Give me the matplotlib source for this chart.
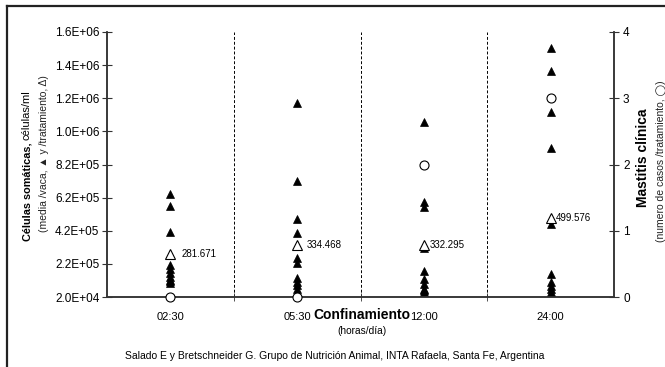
import matplotlib

matplotlib.use("Agg")

import matplotlib.pyplot as plt
import numpy as np
from matplotlib.lines import Line2D
from matplotlib.ticker import FormatStrFormatter

plt.rcParams["font.family"] = ["Liberation Sans", "DejaVu Sans"]

# Confinamiento (horas/dia)
categories = ["02:30", "05:30", "12:00", "24:00"]

# celulas somaticas, media por vaca (triangulos llenos)
scc_cow_0230 = [642000, 569000, 411000, 213000, 187000, 163000, 143000, 123000, 115000, 103000]
scc_cow_0530 = [1193000, 722000, 489000, 408000, 254000, 223000, 133000, 112000, 92000, 66000]
scc_cow_1200 = [1078000, 595000, 565000, 318000, 179000, 129000, 98000, 68000, 60000, 52000]
scc_cow_2400 = [1522000, 1386000, 1139000, 918000, 461000, 159000, 109000, 88000, 68000, 48000]
scc_cow = [scc_cow_0230, scc_cow_0530, scc_cow_1200, scc_cow_2400]

# media por tratamiento (triangulo abierto)
scc_mean = [281671, 334468, 332295, 499576]
scc_mean_labels = ["281.671", "334.468", "332.295", "499.576"]

# mastitis clinica, casos por tratamiento (circulo)
mastitis = [0, 0, 2, 3]

yticks = np.arange(20000, 1620001, 200000)

W, H = 665, 367
fig = plt.figure(figsize=(W / 100, H / 100), dpi=100)
ax = fig.add_axes([107 / W, 70 / H, 507 / W, 265 / H])
ax2 = ax.twinx()

x = np.arange(len(categories))
spine_c = "#333333"

for i, vals in enumerate(scc_cow):
    ax.plot([x[i]] * len(vals), vals, ls="none", marker="^", ms=5.8,
            mfc="black", mec="black", mew=0.5, clip_on=False, zorder=3)

ax.plot(x, scc_mean, ls="none", marker="^", ms=7, mfc="white", mec="black",
        mew=0.8, clip_on=False, zorder=4)
label_offsets = [11, 10, 6, 5]
for i, (m, lab) in enumerate(zip(scc_mean, scc_mean_labels)):
    ax.annotate(lab, xy=(x[i], m), xytext=(label_offsets[i], 0),
                textcoords="offset pixels", ha="left", va="center", fontsize=7)

ax2.plot(x, mastitis, ls="none", marker="o", ms=6.5, mfc="white", mec="black",
         mew=0.8, clip_on=False, zorder=5)

# separadores entre tratamientos
for b in x[:-1] + 0.5:
    ax.axvline(b, color="black", lw=0.7, ls=(0, (3, 2)), zorder=1)

ax.set_xlim(-0.5, len(categories) - 0.5)
ax.set_ylim(yticks[0], yticks[-1])
ax.set_yticks(yticks)
ax.yaxis.set_major_formatter(FormatStrFormatter("%.1E"))
ax.set_xticks(x)
ax.set_xticklabels(categories)
ax.set_xticks(x[:-1] + 0.5, minor=True)
ax.tick_params(axis="x", which="major", length=0, labelsize=8, pad=11)
ax.tick_params(axis="x", which="minor", direction="inout", length=6, color=spine_c)
ax.tick_params(axis="y", direction="inout", length=7, labelsize=8.5, pad=2, color=spine_c)

ax2.set_ylim(0, 4)
ax2.set_yticks([0, 1, 2, 3, 4])
ax2.tick_params(axis="y", direction="inout", length=7, labelsize=8.5, pad=3, color=spine_c)

for a in (ax, ax2):
    a.spines["top"].set_visible(False)
    for s in ("left", "right", "bottom"):
        a.spines[s].set_color(spine_c)
        a.spines[s].set_linewidth(1.1)

# etiquetas de ejes
t1 = fig.text(27 / W, 1 - 241 / H, "Células somáticas,", rotation=90, ha="center",
              va="bottom", fontsize=7.8, fontweight="bold")
ax.annotate("células/ml", xy=(0.5, 1), xycoords=t1, xytext=(0, 2),
            textcoords="offset points", rotation=90, ha="center", va="bottom", fontsize=8)
fig.text(44 / W, 1 - 154 / H, "(media /vaca, ▲ y /tratamiento, Δ)", rotation=90,
         ha="center", va="center", fontsize=7.5, color="#222222")

fig.text(643 / W, 1 - 158 / H, "Mastitis clínica", rotation=90, ha="center",
         va="center", fontsize=10, fontweight="bold")
fig.text(661 / W, 1 - 161 / H, "(numero de casos /tratamiento, ◯)", rotation=90,
         ha="center", va="center", fontsize=7.5, color="#222222")

fig.text(362 / W, 1 - 315 / H, "Confinamiento", ha="center", va="center",
         fontsize=10, fontweight="bold")
fig.text(362 / W, 1 - 331 / H, "(horas/día)", ha="center", va="center", fontsize=7.3)
fig.text(335 / W, 1 - 356 / H,
         "Salado E y Bretschneider G. Grupo de Nutrición Animal, INTA Rafaela, Santa Fe, Argentina",
         ha="center", va="center", fontsize=7.5)

# marco
fx, fy = 6.5 / W, 1 - 5.5 / H
fig.add_artist(Line2D([fx, fx], [0, fy], transform=fig.transFigure, color="#222222", lw=1.6))
fig.add_artist(Line2D([fx, 1], [fy, fy], transform=fig.transFigure, color="#222222", lw=1.6))

fig.savefig("out.png", dpi=100)
